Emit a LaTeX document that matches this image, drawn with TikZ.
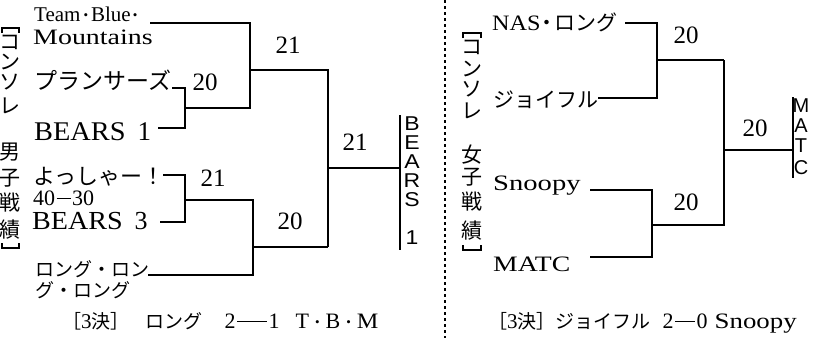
\documentclass[tikz,border=0pt]{standalone}
\usepackage{fontspec}
\usepackage{graphicx}
\setmainfont{Liberation Serif}
\newfontfamily\jp{Noto Sans CJK JP}
\newfontfamily\gs{Liberation Sans}
\newcommand\fs[1]{\fontsize{#1}{#1}\selectfont}
\newcommand\sx[2]{\scalebox{#1}[1]{#2}}
\newcommand\ldot[1]{\hspace{#1}{\fs{13}\raisebox{1.5pt}{•}}\hspace{#1}}
\newcommand\dashrule[1]{\hspace{1.5pt}\rule[0.3em]{#1}{0.9pt}\hspace{1.5pt}}
\begin{document}
\begin{tikzpicture}[x=1pt,y=-1pt,
  lo/.style={line width=1.1pt},
  hi/.style={line width=2.6pt},
  bar/.style={line width=1.5pt},
  sep/.style={line width=1.1pt, dash pattern=on 3pt off 3pt},
  txt/.style={anchor=base west, inner sep=0pt},
  num/.style={inner sep=0pt, font=\fs{25}},
  vch/.style={inner sep=0pt, font=\jp\fs{21}},
  vlat/.style={inner sep=0pt, font=\gs\fs{20}},
]
\useasboundingbox (0,0) rectangle (826,338);
\fill[white] (0,0) rectangle (826,338);

% ---------- left titles ----------
\foreach \c/\y in {コ/42,ン/62,ソ/82,レ/106,男/152,子/178,戦/203,績/230}
  \node[vch] (tl-\y) at (10,\y) {\c};
\draw[lo] (2,33) -- (2,28) -- (19,28) -- (19,33);
\draw[lo] (2,243) -- (2,248) -- (19,248) -- (19,243);

% ---------- left entries ----------
\node[txt,font=\fs{21}] (tbm1) at (34,21) {Team\ldot{3pt}Blue\ldot{2pt}};
\node[txt,font=\fs{22}] (tbm2) at (33,44) {\sx{1.27}{Mountains}};
\node[txt,font=\jp\fs{23}] (pla) at (34,89) {プランサーズ};
\node[txt,font=\fs{27}] (b1) at (34,140) {\sx{1.05}{BEARS}\hspace{12pt}1};
\node[txt,font=\jp\fs{22}] (yo) at (33,184) {よっしゃー！};
\node[txt,font=\fs{22}] (sc) at (33,205) {40\dashrule{14pt}30};
\node[txt,font=\fs{26}] (b3) at (32,229) {\sx{1.08}{BEARS}\hspace{12pt}3};
\node[txt,font=\jp\fs{19}] (lo1) at (35,276) {ロング・ロン};
\node[txt,font=\jp\fs{19}] (lo2) at (35,297) {グ・ロング};
\node[txt,font=\jp\fs{19}] (res1) at (62,328)
  {［{\rmfamily\fs{21}3}決］\hspace{16pt}ロング\hspace{22pt}{\rmfamily\fs{22}2\dashrule{30pt}1\hspace{16pt}T\ldot{6pt}B\ldot{6pt}\sx{1.1}{M}}};

\coordinate (tbmE) at (150,23);
\coordinate (plaE) at (172,88);
\coordinate (b1E) at (158,128);
\coordinate (yoE) at (163,175);
\coordinate (b3E) at (160,222);
\coordinate (loE) at (148,275);
\coordinate (m1) at (185,108);
\coordinate (m2) at (185,200);
\coordinate (s1) at (250,70);
\coordinate (s2) at (253,247);
\coordinate (f) at (328,168);
\coordinate (w1) at (400,168);
\coordinate (bt1) at (400,115);
\coordinate (bb1) at (400,250);

\draw[lo] (tbmE) -| (s1);
\draw[lo] (plaE) -| (m1);
\draw[lo] (b3E) -| (m2);
\draw[lo] (loE) -| (s2);
\draw[lo] (s2 -| f) -- (f);
\draw[hi] (b1E) -| (m1) -| (s1) -| (f) -- (w1);
\draw[hi] (yoE) -| (m2) -| (s2) -- (s2 -| f);
\draw[bar] (bt1) -- (bb1);

\node[num] (n1) at (205,82) {20};
\node[num] (n2) at (288,45) {21};
\node[num] (n3) at (213,178) {21};
\node[num] (n4) at (290,221) {20};
\node[num] (n5) at (355,142) {21};

\foreach \c/\y in {B/124,E/143,A/162,R/181,S/200,1/238}
  \node[vlat] (vb-\y) at (412,\y) {\sx{1.15}{\c}};

% ---------- separator ----------
\coordinate (sepT) at (445,0);
\coordinate (sepB) at (445,338);
\draw[sep] (sepT) -- (sepB);

% ---------- right titles ----------
\foreach \c/\y in {コ/47,ン/69,ソ/89,レ/111,女/155,子/177,戦/202,績/231}
  \node[vch] (tr-\y) at (472,\y) {\c};
\draw[lo] (463,38) -- (463,33) -- (481,33) -- (481,38);
\draw[lo] (463,245) -- (463,250) -- (481,250) -- (481,245);

% ---------- right entries ----------
\node[txt] (nas) at (492,30) {{\fs{22}\sx{1.1}{NAS}}{\jp\fs{21}\hspace{-4pt}・\hspace{-3pt}ロング}};
\node[txt,font=\jp\fs{21}] (joy) at (493,107) {ジョイフル};
\node[txt,font=\fs{22}] (sno) at (493,190) {\sx{1.3}{Snoopy}};
\node[txt,font=\fs{22}] (mat) at (493,271) {\sx{1.26}{MATC}};
\node[txt,font=\jp\fs{19}] (res2) at (488,328)
  {［{\rmfamily\fs{21}3}決］ジョイフル\hspace{12pt}{\rmfamily\fs{22}2\dashrule{20pt}0\hspace{7pt}\sx{1.22}{Snoopy}}};

\coordinate (nasE) at (625,23);
\coordinate (joyE) at (598,98);
\coordinate (snoE) at (590,190);
\coordinate (matE) at (590,257);
\coordinate (r1) at (657,60);
\coordinate (r2) at (652,225);
\coordinate (rf) at (724,150);
\coordinate (w2) at (793,150);
\coordinate (bt2) at (793,97);
\coordinate (bb2) at (793,178);

\draw[lo] (joyE) -| (r1);
\draw[lo] (snoE) -| (r2);
\draw[lo] (r1 -| rf) -- (rf);
\draw[hi] (nasE) -| (r1) -- (r1 -| rf);
\draw[hi] (matE) -| (r2) -| (rf) -- (w2);
\draw[bar] (bt2) -- (bb2);

\node[num] (n6) at (686,35) {20};
\node[num] (n7) at (755,128) {20};
\node[num] (n8) at (686,202) {20};

\foreach \c/\y in {M/106,A/126,T/146,C/168}
  \node[vlat] (vm-\y) at (801,\y) {\c};
\end{tikzpicture}
\end{document}
